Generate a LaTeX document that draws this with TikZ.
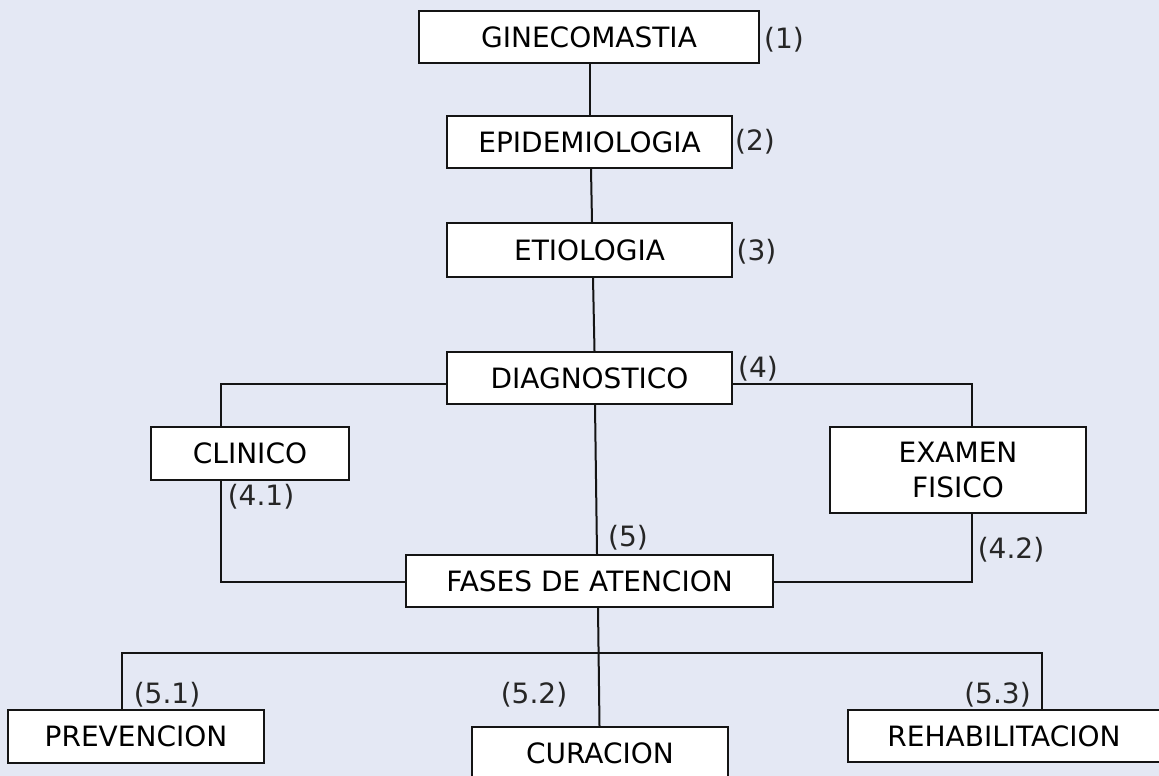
\documentclass[tikz,border=0pt]{standalone}
\usepackage{fontspec}
\setmainfont{DejaVu Sans}
\usetikzlibrary{calc}
\definecolor{bgcol}{HTML}{E4E8F4}
\definecolor{labcol}{HTML}{262626}
\definecolor{edgecol}{HTML}{141414}
\begin{document}
\begin{tikzpicture}[x=1pt,y=-1pt,
  box/.style={draw=edgecol,line width=2pt,fill=white,rectangle,inner sep=0pt,
    font=\fontsize{28}{35}\selectfont,text=black,align=center},
  num/.style={inner sep=0pt,font=\fontsize{28}{35}\selectfont,text=labcol},
  link/.style={draw=edgecol,line width=2pt}]
\useasboundingbox (0,0) rectangle (1159,776);
\fill[bgcol] (0,0) rectangle (1159,776);

% boxes
\node[box,minimum width=340pt,minimum height=52pt] (gin)   at (589,37)    {GINECOMASTIA};
\node[box,minimum width=285pt,minimum height=52pt] (epi)   at (589.5,142) {EPIDEMIOLOGIA};
\node[box,minimum width=285pt,minimum height=54pt] (eti)   at (589.5,250) {ETIOLOGIA};
\node[box,minimum width=285pt,minimum height=52pt] (diag)  at (589.5,378) {DIAGNOSTICO};
\node[box,minimum width=198pt,minimum height=53pt] (clin)  at (250,453.5) {CLINICO};
\node[box,minimum width=256pt,minimum height=86pt] (exam)  at (958,470)   {EXAMEN\\FISICO};
\node[box,minimum width=367pt,minimum height=52pt] (fases) at (589.5,581) {FASES DE ATENCION};
\node[box,minimum width=256pt,minimum height=53pt] (prev)  at (136,736.5) {PREVENCION};
\node[box,minimum width=256pt,minimum height=53pt] (cura)  at (600,753.5) {CURACION};
\node[box,minimum width=312pt,minimum height=52pt] (rehab) at (1004,736)  {REHABILITACION};

% main spine
\draw[link] ($(gin.south)+(1,0)$) -- ($(epi.north)+(0.5,0)$);
\draw[link] ($(epi.south)+(1.5,0)$) -- ($(eti.north)+(2.5,0)$);
\draw[link] ($(eti.south)+(3.5,0)$) -- ($(diag.north)+(5,0)$);
\draw[link] ($(diag.south)+(5.5,0)$) -- ($(fases.north)+(7.5,0)$);
\draw[link] ($(fases.south)+(8.5,0)$) -- ($(cura.north)+(-0.5,0)$);

% diagnosis branches
\draw[link] ($(diag.west)+(0,6)$) -| ($(clin.north)+(-29,0)$);
\draw[link] ($(diag.east)+(0,6)$) -| ($(exam.north)+(14,0)$);
\draw[link] ($(clin.south)+(-29,0)$) |- ($(fases.west)+(0,1)$);
\draw[link] ($(exam.south)+(14,0)$) |- ($(fases.east)+(0,1)$);

% phases bus
\coordinate (busL) at (122,653);
\coordinate (busR) at (1042,653);
\draw[link] ($(prev.north)+(-14,0)$) -- (busL) -- (busR) -- ($(rehab.north)+(38,0)$);

% numbers
\node[num] (n1)  at (784,40)    {(1)};
\node[num] (n2)  at (755,142)   {(2)};
\node[num] (n3)  at (756.5,252) {(3)};
\node[num] (n4)  at (758,369)   {(4)};
\node[num] (n41) at (261,497)   {(4.1)};
\node[num] (n42) at (1011,550)  {(4.2)};
\node[num] (n5)  at (628,538)   {(5)};
\node[num] (n51) at (167,695)   {(5.1)};
\node[num] (n52) at (534,695)   {(5.2)};
\node[num] (n53) at (997.5,695) {(5.3)};
\end{tikzpicture}
\end{document}
